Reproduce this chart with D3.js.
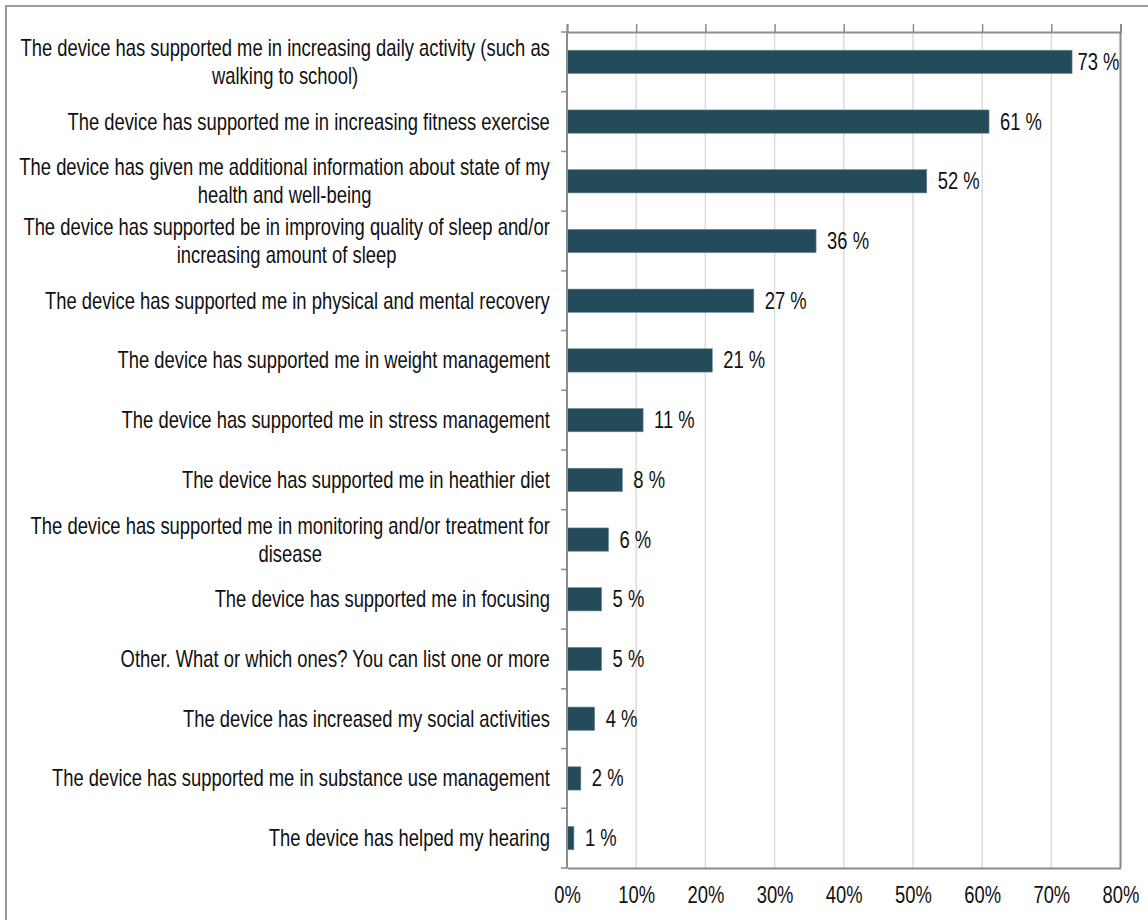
<!DOCTYPE html>
<html lang="en">
<head>
<meta charset="utf-8">
<title>Device support</title>
<script src="https://d3js.org/d3.v7.min.js"></script>
<style>
  body { margin: 0; background: #fff; }
  text { font-family: "Liberation Sans", Arial, sans-serif; fill: #111; }
</style>
</head>
<body>
<script>
// data
var categories = [
  ["The device has supported me in increasing daily activity (such as", "walking to school)"],
  ["The device has supported me in increasing fitness exercise"],
  ["The device has given me additional information about state of my", "health and well-being"],
  ["The device has supported be in improving quality of sleep and/or", "increasing amount of sleep"],
  ["The device has supported me in physical and mental recovery"],
  ["The device has supported me in weight management"],
  ["The device has supported me in stress management"],
  ["The device has supported me in heathier diet"],
  ["The device has supported me in monitoring and/or treatment for", "disease"],
  ["The device has supported me in focusing"],
  ["Other. What or which ones? You can list one or more"],
  ["The device has increased my social activities"],
  ["The device has supported me in substance use management"],
  ["The device has helped my hearing"]
];
var values = [73, 61, 52, 36, 27, 21, 11, 8, 6, 5, 5, 4, 2, 1];
var xTicks = [0, 10, 20, 30, 40, 50, 60, 70, 80];

var W = 1148, H = 920;
var plotL = 567, plotR = 1120.5, plotT = 32, plotB = 868;
var fs = 23, sx = 0.80;   // text is horizontally squeezed in the original

var svg = d3.select("body").append("svg")
    .attr("width", W).attr("height", H);

// outer frame
svg.append("path")
    .attr("d", "M6," + H + "V6H" + W)
    .attr("fill", "none").attr("stroke", "#9a9a9a").attr("stroke-width", 2);

var x = d3.scaleLinear().domain([0, 80]).range([plotL, plotR]);
var y = d3.scaleBand().domain(d3.range(categories.length))
    .range([plotT, plotB]).paddingInner(0.61).paddingOuter(0.305);

// gridlines
svg.append("g").selectAll("line").data(xTicks.slice(1)).enter().append("line")
    .attr("x1", function(d) { return x(d); }).attr("x2", function(d) { return x(d); })
    .attr("y1", plotT).attr("y2", plotB)
    .attr("stroke", "#dcdcdc").attr("stroke-width", 1.5);

// bars
svg.append("g").selectAll("rect").data(values).enter().append("rect")
    .attr("x", x(0))
    .attr("y", function(d, i) { return y(i); })
    .attr("width", function(d) { return x(d) - x(0); })
    .attr("height", y.bandwidth())
    .attr("fill", "#244b59")
    .attr("stroke", "#6d8b95").attr("stroke-width", 0.6);

// top axis with upward ticks, no labels
var topAxis = svg.append("g").attr("transform", "translate(0," + plotT + ")")
    .call(d3.axisTop(x).tickValues(xTicks).tickSize(8).tickFormat(""));
topAxis.select(".domain").attr("stroke", "#8c8c8c").attr("stroke-width", 2);
topAxis.selectAll(".tick line").attr("stroke", "#8c8c8c").attr("stroke-width", 1.5);

// bottom axis labels
var botAxis = svg.append("g").attr("transform", "translate(0," + plotB + ")")
    .call(d3.axisBottom(x).tickValues(xTicks).tickSize(0).tickPadding(19)
      .tickFormat(function(d) { return d + "%"; }));
botAxis.select(".domain").attr("stroke", "#8c8c8c").attr("stroke-width", 2);
botAxis.selectAll(".tick text")
    .attr("font-size", fs).attr("font-family", null).attr("fill", "#111")
    .attr("transform", "scale(" + sx + ",1)");

// right border
svg.append("line").attr("x1", plotR).attr("x2", plotR).attr("y1", plotT).attr("y2", plotB)
    .attr("stroke", "#8c8c8c").attr("stroke-width", 2);

// left axis with ticks between categories
svg.append("line").attr("x1", plotL).attr("x2", plotL).attr("y1", plotT).attr("y2", plotB)
    .attr("stroke", "#8c8c8c").attr("stroke-width", 2);
var bounds = d3.range(categories.length + 1).map(function(i) { return plotT + i * y.step(); });
svg.append("g").selectAll("line").data(bounds).enter().append("line")
    .attr("x1", plotL - 6).attr("x2", plotL)
    .attr("y1", function(d) { return d; }).attr("y2", function(d) { return d; })
    .attr("stroke", "#8c8c8c").attr("stroke-width", 1.5);

// category labels, right aligned block, lines centred within it
var labelRight = plotL - 17, lineGap = 28;
var lab = svg.append("g").selectAll("g").data(categories).enter().append("g")
    .attr("transform", function(d, i) {
      return "translate(0," + (y(i) + y.bandwidth() / 2) + ")";
    });
lab.each(function(lines) {
  var g = d3.select(this);
  var ts = lines.map(function(s, k) {
    return g.append("text").attr("font-size", fs).attr("text-anchor", "middle")
      .attr("dy", "0.35em")
      .attr("y", (k - (lines.length - 1) / 2) * lineGap)
      .text(s);
  });
  var maxW = d3.max(ts, function(t) { return t.node().getComputedTextLength(); }) * sx;
  var cx = labelRight - maxW / 2;
  ts.forEach(function(t) {
    t.attr("transform", "translate(" + cx + ",0) scale(" + sx + ",1)");
  });
});

// value labels
svg.append("g").selectAll("text").data(values).enter().append("text")
    .attr("font-size", fs).attr("dy", "0.35em")
    .text(function(d) { return d + " %"; })
    .each(function(d, i) {
      var t = d3.select(this);
      var w = this.getComputedTextLength() * sx;
      var tx = Math.min(x(d) + 11, plotR - 1 - w);
      t.attr("transform", "translate(" + tx + "," + (y(i) + y.bandwidth() / 2) + ") scale(" + sx + ",1)");
    });
</script>
</body>
</html>
